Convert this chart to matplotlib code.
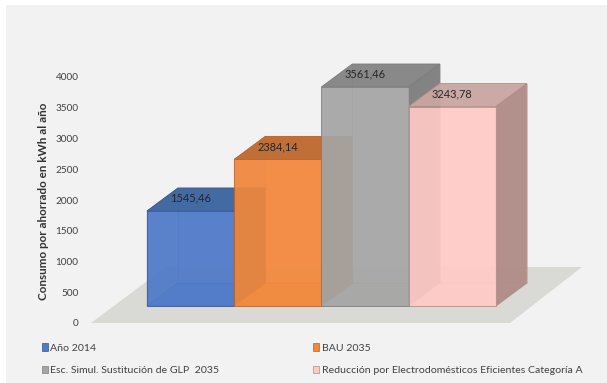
import matplotlib
matplotlib.use("Agg")
import matplotlib.pyplot as plt
from matplotlib.patches import Polygon, Rectangle, Patch

plt.rcParams['font.family'] = ['Lato', 'DejaVu Sans']

series = ["Año 2014", "BAU 2035", "Esc. Simul. Sustitución de GLP  2035",
          "Reducción por Electrodomésticos Eficientes Categoría A"]
values = [1545.46, 2384.14, 3561.46, 3243.78]
value_labels = ["1545,46", "2384,14", "3561,46", "3243,78"]
y_ticks = [0, 500, 1000, 1500, 2000, 2500, 3000, 3500, 4000]
y_title = "Consumo por ahorrado en kWh al año"

front_colors = ["#4F7AC9", "#F2883C", "#A6A6A6", "#FFCBC7"]
top_colors = ["#3D659F", "#BE6A30", "#858585", "#C9A6A2"]
side_colors = ["#39609A", "#B86228", "#7F7F7F", "#AF8C88"]
edge_colors = ["#34558F", "#B5642E", "#7B7B7B", "#B08C86"]

W, H = 607, 383
PX_X = 87.2            # pixels per bar width
PX_Y = 246 / 4000      # pixels per unit of consumption
X0 = 147               # pixel of the first bar's left edge
AX_L, AX_R, AX_T, AX_B = 80, 600, 77, 323

DX = 31 / PX_X         # oblique depth, in category units
DY = 23 / PX_Y         # oblique depth, in value units
BASE = 17 / PX_Y       # lift of the bars' front edge above the zero line


def proj(x, y, d):
    """Oblique projection: d=0 is the front plane, d=1 the back plane."""
    return (x + DX * d, BASE + y + DY * d)


fig = plt.figure(figsize=(W / 100, H / 100), dpi=100, facecolor="white")
fig.add_artist(Rectangle((6 / W, 0), 1 - 6 / W, 1 - 5 / H, transform=fig.transFigure,
                         facecolor="#F2F2F2", edgecolor="none", zorder=-10))
ax = fig.add_axes([AX_L / W, 1 - AX_B / H, (AX_R - AX_L) / W, (AX_B - AX_T) / H])
ax.patch.set_alpha(0)
ax.set_xlim((AX_L - X0) / PX_X, (AX_R - X0) / PX_X)
ax.set_ylim(0, 4000)
for s in ax.spines.values():
    s.set_visible(False)
ax.set_xticks([])
ax.set_yticks(y_ticks)
ax.tick_params(axis="y", length=0, pad=1, labelsize=7.2, labelcolor="#404040")
ax.set_ylabel(y_title, fontsize=8.4, fontweight="bold", color="#333333", labelpad=0)
ax.yaxis.set_label_coords((49 - AX_L) / (AX_R - AX_L), (AX_B - 201) / (AX_B - AX_T))


def poly(pts, **kw):
    ax.add_patch(Polygon(pts, closed=True, clip_on=False, **kw))


# grey floor under the bars
floor_l = (91 - X0) / PX_X
floor_r = (510 - X0) / PX_X
floor_back_l = (166 - X0) / PX_X
floor_back_r = (582 - X0) / PX_X
floor_back_y = (323 - 267) / PX_Y
poly([(floor_l, 0), (floor_r, 0), (floor_back_r, floor_back_y), (floor_back_l, floor_back_y)],
     facecolor="#D9D9D6", edgecolor="none", zorder=1)

# bars, left to right, translucent so that hidden edges show through
for i, v in enumerate(values):
    l, r = i, i + 1
    z = 2 + i
    front, top, side, edge = front_colors[i], top_colors[i], side_colors[i], edge_colors[i]
    kw = dict(edgecolor=edge, linewidth=0.6, zorder=z)
    poly([proj(l, 0, 1), proj(r, 0, 1), proj(r, v, 1), proj(l, v, 1)],
         facecolor=front, alpha=0.35, **kw)
    poly([proj(l, 0, 0), proj(l, 0, 1), proj(l, v, 1), proj(l, v, 0)],
         facecolor=side, alpha=0.25, **kw)
    poly([proj(l, 0, 0), proj(r, 0, 0), proj(r, 0, 1), proj(l, 0, 1)],
         facecolor=front, alpha=0.6, **kw)
    poly([proj(r, 0, 0), proj(r, 0, 1), proj(r, v, 1), proj(r, v, 0)],
         facecolor=side, alpha=0.95, **kw)
    poly([proj(l, v, 0), proj(r, v, 0), proj(r, v, 1), proj(l, v, 1)],
         facecolor=top, alpha=0.95, **kw)
    poly([proj(l, 0, 0), proj(r, 0, 0), proj(r, v, 0), proj(l, v, 0)],
         facecolor=front, alpha=0.9, **kw)

# value labels sit on the top faces, centred over each bar
for i, (v, t) in enumerate(zip(values, value_labels)):
    _, y = proj(i + 0.5, v, 0.55)
    ax.text(i + 0.5, y, t, ha="center", va="center", fontsize=7.9, color="#262626",
            zorder=10, clip_on=False)

# legend fills two columns row by row
order = [0, 2, 1, 3]
handles = [Patch(facecolor=front_colors[k], edgecolor=edge_colors[k], linewidth=0.5,
                 label=series[k]) for k in order]
fig.legend(handles=handles, ncol=2, loc="lower left",
           bbox_to_anchor=(42 / W, 1 - 375 / H), frameon=False, fontsize=7.55,
           labelcolor="#404040", handlelength=0.55, handleheight=0.7, handletextpad=0.25,
           columnspacing=8.95, labelspacing=1.25, borderpad=0, borderaxespad=0)

fig.savefig("out.png", dpi=100, facecolor="white")
